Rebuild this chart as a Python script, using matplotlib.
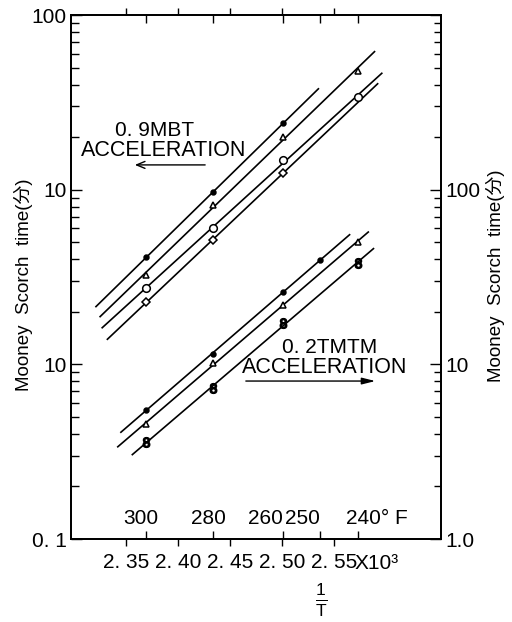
import numpy as np
import matplotlib.pyplot as plt
from matplotlib import font_manager
from matplotlib.ticker import FixedLocator, FixedFormatter, LogLocator, NullFormatter


def has_font(name):
    try:
        font_manager.findfont(name, fallback_to_default=False)
        return True
    except ValueError:
        return False


# narrow face for the axis numbers if it is there
if has_font('Liberation Sans Narrow'):
    NUM_FONT, NUM_SIZE = 'Liberation Sans Narrow', 18
else:
    NUM_FONT, NUM_SIZE = 'Liberation Sans', 15
TXT_FONT = ['Liberation Sans', 'Noto Sans CJK JP', 'DejaVu Sans']

plt.rcParams['font.family'] = TXT_FONT
plt.rcParams['mathtext.fontset'] = 'custom'
plt.rcParams['mathtext.rm'] = 'Liberation Sans'


def inv_temp(deg_f):
    # 1/T in 10^-3 K^-1 from deg F
    return 1000.0 / ((np.asarray(deg_f, dtype=float) - 32) * 5 / 9 + 273.15)


# --- 0.9 MBT acceleration, scorch time (min), left scale ---
mbt_a_F = [300, 280, 260]
mbt_a = [4.1, 9.7, 24.0]
mbt_b_F = [300, 280, 260, 240]
mbt_b = [3.25, 8.2, 20.0, 48.0]
mbt_c_F = [300, 280, 260, 240]
mbt_c = [2.75, 6.0, 14.8, 34.0]
mbt_d_F = [300, 280, 260]
mbt_d = [2.27, 5.15, 12.5]

# --- 0.2 TMTM acceleration, scorch time (min), right scale ---
tmtm_a_F = [300, 280, 260, 250]
tmtm_a = [5.5, 11.5, 26.0, 39.5]
tmtm_b_F = [300, 280, 260, 240]
tmtm_b = [4.55, 10.2, 22.0, 50.0]
tmtm_c_F = [300, 280, 260, 240]
tmtm_c = [3.6, 7.3, 17.2, 38.0]

# span of each fitted line in 1/T (x10^3)
mbt_spans = [(2.321, 2.535), (2.325, 2.589), (2.327, 2.596), (2.332, 2.592)]
tmtm_spans = [(2.345, 2.565), (2.342, 2.583), (2.356, 2.588)]

inv_ticks = [2.35, 2.40, 2.45, 2.50, 2.55]
inv_labels = ['2. 35', '2. 40', '2. 45', '2. 50', '2. 55']
temp_ticks = [300, 280, 260, 250, 240]

fig = plt.figure(figsize=(5.12, 6.22), dpi=100)
ax = fig.add_axes([0.1387, 0.1334, 0.7227, 0.8424])
ax2 = ax.twinx()

ax.set_xlim(2.297, 2.653)
ax.set_yscale('log')
ax.set_ylim(0.1, 100)
ax2.set_yscale('log')
ax2.set_ylim(1, 1000)


def draw_group(axis, temps, values, spans, markers):
    for f, v, span, mk in zip(temps, values, spans, markers):
        x = inv_temp(f)
        fit = np.polyfit(x, np.log10(v), 1)
        xs = np.array(span)
        axis.plot(xs, 10 ** np.polyval(fit, xs), color='k', lw=1.2, zorder=2)
        filled = mk[1]
        axis.plot(x, v, ls='none', marker=mk[0], ms=mk[2], mec='k',
                  mfc='k' if filled else 'white', mew=1.1, zorder=3)


draw_group(ax, [mbt_a_F, mbt_b_F, mbt_c_F, mbt_d_F],
           [mbt_a, mbt_b, mbt_c, mbt_d], mbt_spans,
           [('o', True, 3.5), ('^', False, 5), ('o', False, 5.5), ('D', False, 4.5)])
draw_group(ax2, [tmtm_a_F, tmtm_b_F, tmtm_c_F],
           [tmtm_a, tmtm_b, tmtm_c], tmtm_spans,
           [('o', True, 3.5), ('^', False, 5), ('$8$', False, 7)])

# x axis: 1/T ticks outside, temperature ticks inside
ax.xaxis.set_major_locator(FixedLocator(inv_ticks))
ax.xaxis.set_major_formatter(FixedFormatter(inv_labels))
ax.xaxis.set_minor_locator(FixedLocator(inv_temp(temp_ticks)))
ax.xaxis.set_minor_formatter(NullFormatter())
ax.tick_params(axis='x', which='major', direction='out', length=5,
               width=1, top=True, bottom=True, pad=5)
ax.tick_params(axis='x', which='minor', direction='in', length=6,
               width=1, top=True, bottom=True)

# left scale
ax.yaxis.set_major_locator(FixedLocator([0.1, 1, 10, 100]))
ax.yaxis.set_major_formatter(FixedFormatter(['0. 1', '10', '10', '100']))
ax.yaxis.set_minor_locator(LogLocator(base=10, subs=np.arange(2, 10)))
ax.yaxis.set_minor_formatter(NullFormatter())
ax.tick_params(axis='y', which='major', direction='in', length=8, width=1, pad=3)
ax.tick_params(axis='y', which='minor', direction='in', length=6, width=1)

# right scale
ax2.yaxis.set_major_locator(FixedLocator([1, 10, 100, 1000]))
ax2.yaxis.set_major_formatter(FixedFormatter(['1.0', '10', '100', '']))
ax2.yaxis.set_minor_locator(LogLocator(base=10, subs=np.arange(2, 10)))
ax2.yaxis.set_minor_formatter(NullFormatter())
ax2.tick_params(axis='y', which='major', direction='in', length=8, width=1, pad=3)
ax2.tick_params(axis='y', which='minor', direction='in', length=5, width=1)

for a in (ax, ax2):
    for lbl in a.get_xticklabels() + a.get_yticklabels():
        lbl.set_fontfamily(NUM_FONT)
        lbl.set_fontsize(NUM_SIZE)
    for sp in a.spines.values():
        sp.set_linewidth(1.3)

ax.annotate('X10³', xy=(2.55, 0), xycoords=('data', 'axes fraction'),
            xytext=(15, -10.5), textcoords='offset points', ha='left', va='top',
            fontfamily=NUM_FONT, fontsize=NUM_SIZE)

# temperature labels sitting inside the bottom spine
temp_text = [('300', -4, 'center'), ('280', -3, 'center'), ('260', 0, 'right'),
             ('250', 0, 'right'), ('240° F', -8, 'left')]
for f, (txt, dx, ha) in zip(temp_ticks, temp_text):
    ax.annotate(txt, xy=(inv_temp(f), 0), xycoords=('data', 'axes fraction'),
                xytext=(dx, 8), textcoords='offset points', ha=ha, va='bottom',
                fontfamily=NUM_FONT, fontsize=NUM_SIZE)

# group captions and arrows
ax.text(0.227, 0.7805, '0. 9MBT', transform=ax.transAxes, ha='center',
        va='center', fontsize=15)
ax.text(0.249, 0.742, 'ACCELERATION', transform=ax.transAxes, ha='center',
        va='center', fontsize=15.5)
ax.annotate('', xy=(0.165, 0.714), xytext=(0.370, 0.714),
            xycoords='axes fraction',
            arrowprops=dict(arrowstyle='->,head_length=0.6,head_width=0.25',
                            lw=1, color='k'))
ax.text(0.700, 0.365, '0. 2TMTM', transform=ax.transAxes, ha='center',
        va='center', fontsize=15)
ax.text(0.686, 0.328, 'ACCELERATION', transform=ax.transAxes, ha='center',
        va='center', fontsize=15.5)
ax.annotate('', xy=(0.830, 0.3015), xytext=(0.465, 0.3015),
            xycoords='axes fraction',
            arrowprops=dict(arrowstyle='-|>,head_length=0.8,head_width=0.2',
                            lw=1, color='k'))

# axis titles
fig.text(23 / 512, 1 - 285 / 622, 'Mooney  Scorch  time(分)', rotation=90,
         ha='center', va='center', fontsize=13.5)
fig.text(495 / 512, 1 - 276 / 622, 'Mooney  Scorch  time(分)', rotation=90,
         ha='center', va='center', fontsize=13.5)
fig.text(321 / 512, 1 - 600 / 622, r'$\mathrm{\frac{1}{T}}$',
         ha='center', va='center', fontsize=18)

fig.savefig('out.png', dpi=100)
